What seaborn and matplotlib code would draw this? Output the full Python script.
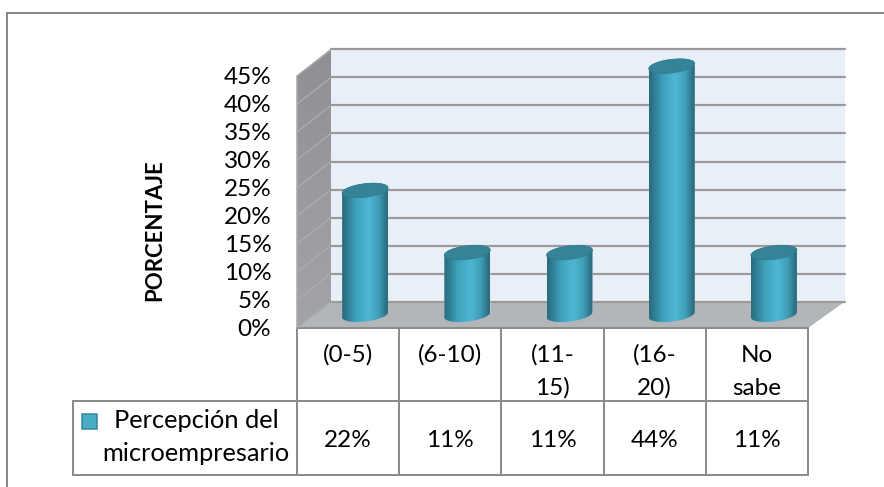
import numpy as np
import pandas as pd
import matplotlib
matplotlib.use("Agg")
import matplotlib.pyplot as plt
from matplotlib.colors import LinearSegmentedColormap
from matplotlib.patches import PathPatch, Polygon, Rectangle
from matplotlib.path import Path
from matplotlib.transforms import blended_transform_factory
import seaborn as sns

# ---- data ----
categories = ["(0-5)", "(6-10)", "(11-15)", "(16-20)", "No sabe"]
category_lines = [["(0-5)"], ["(6-10)"], ["(11-", "15)"], ["(16-", "20)"], ["No", "sabe"]]
values = [22.2, 11.1, 11.1, 44.4, 11.1]
value_labels = ["22%", "11%", "11%", "44%", "11%"]
yticks = [0, 5, 10, 15, 20, 25, 30, 35, 40, 45]
series_name = ["Percepción del", "microempresario"]
ylabel = "PORCENTAJE"

# ---- style / layout ----
W, H = 884, 487
X0, X1, Y0, Y45 = 297.0, 808.0, 328.0, 76.0   # front plane in pixels
DX, DY = 34.0, -26.5                          # depth of the box
BACK_EXTRA = 3.0                              # back wall runs a little wider
GRAY = "#8c8c8c"
INK = "#000000"
FONT = "Lato"
FS = 17.5

sns.set_theme(style="white")
plt.rcParams["font.family"] = [FONT, "DejaVu Sans"]
plt.rcParams["text.color"] = INK

fig = plt.figure(figsize=(W / 100, H / 100), dpi=100, facecolor="white")


def plane(dx=0.0, dy=0.0, z=1, extra=0.0):
    ax = fig.add_axes([(X0 + dx) / W, 1 - (Y0 + dy) / H, (X1 - X0 + extra) / W, (Y0 - Y45) / H], zorder=z)
    ax.patch.set_alpha(0)
    ax.set_ylim(0, 45)
    ax.set_xlim(-0.5, len(categories) - 0.5)
    for s in ax.spines.values():
        s.set_visible(False)
    return ax


# pixel overlay for frame, box faces and table rules
pa = fig.add_axes([0, 0, 1, 1], zorder=0)
pa.set_xlim(0, W)
pa.set_ylim(H, 0)
pa.axis("off")

px = 0.72  # one pixel in points
pa.plot([7, 7, W], [H, 13, 13], color="#888888", lw=2 * px, solid_joinstyle="miter")

# side wall with a soft gradient, floor
wall = Polygon([(X0, Y0), (X0 + DX, Y0 + DY), (X0 + DX, Y45 + DY), (X0, Y45)], closed=True,
               fc="none", ec="none")
pa.add_patch(wall)
sidecmap = LinearSegmentedColormap.from_list("side", ["#8e9094", "#a2a4a8"])
im = pa.imshow(np.linspace(0, 1, 64)[:, None], cmap=sidecmap, aspect="auto",
               extent=(X0, X0 + DX, Y0, Y45 + DY))
im.set_clip_path(wall)
pa.set_xlim(0, W)
pa.set_ylim(H, 0)
pa.add_patch(Polygon([(X0, Y0), (X1, Y0), (X1 + DX + BACK_EXTRA, Y0 + DY), (X0 + DX, Y0 + DY)], closed=True,
                     fc="#b3b6b9", ec="none"))
pa.plot([X0, X0], [Y0, Y45], color="#a8a8a8", lw=1.5 * px)

# back wall
back = plane(DX, DY, z=1, extra=BACK_EXTRA)
back.patch.set_facecolor("#e8eff6")
back.patch.set_alpha(1)
back.set_xticks([])
back.set_yticks(yticks)
back.tick_params(left=False, labelleft=False)
back.grid(True, axis="y", color="#9a9a9a", lw=2.2 * px)
back.set_axisbelow(True)
for line in back.get_ygridlines():
    line.set_clip_on(False)

# front plane: tick labels and x positions for the table
front = plane(0, 0, z=2)
front.set_xticks([])
front.set_yticks(yticks, [f"{t}%" for t in yticks], fontsize=17.5, color=INK)
front.tick_params(axis="y", left=False, length=0, pad=18.5)

# side wall rungs
for t in yticks:
    y = Y0 - (Y0 - Y45) * t / 45
    pa.plot([X0, X0 + DX], [y, y + DY], color="#a9abae", lw=1.5 * px, zorder=3)

# bars in the middle of the depth
bars = plane(DX / 2, DY / 2, z=3)
df = pd.DataFrame({"cat": categories, "val": values})
sns.barplot(data=df, x="cat", y="val", ax=bars, width=0.45, color="#4bacc6",
            saturation=1, native_scale=False, legend=False, errorbar=None)
bars.set_xlim(-0.5, len(categories) - 0.5)
bars.set_ylim(0, 45)
bars.set_xlabel("")
bars.set_ylabel("")
bars.set_xticks([])
bars.set_yticks([])

cyl = LinearSegmentedColormap.from_list(
    "cyl",
    [(0.0, "#2a6a7e"), (0.12, "#317f95"), (0.30, "#3fa2bc"), (0.58, "#4fb7d3"),
     (0.80, "#3f9db6"), (0.93, "#307a8f"), (1.0, "#2b687b")])
gradient = np.linspace(0, 1, 128)[None, :]
RY = 6.8 / ((Y0 - Y45) / 45)     # ellipse half-height in data units
TILT = 2.6 / ((Y0 - Y45) / 45)   # right side raised
t_low = np.linspace(np.pi, 2 * np.pi, 60)
t_up = np.linspace(0, np.pi, 60)
t_full = np.linspace(0, 2 * np.pi, 120)

for rect in list(bars.patches):
    left, w, h = rect.get_x(), rect.get_width(), rect.get_height()
    cx, rx = left + w / 2, w / 2
    xb = cx + rx * np.cos(t_low)
    yb = RY * np.sin(t_low) + TILT * np.cos(t_low)
    xt = cx + rx * np.cos(t_up)
    yt = h + RY * np.sin(t_up) + TILT * np.cos(t_up)
    body = PathPatch(Path(np.column_stack([np.r_[xb, xt], np.r_[yb, yt]]), closed=False),
                     fc="none", ec="none", transform=bars.transData, clip_on=False)
    bars.add_patch(body)
    rect.set_clip_path(body)
    im = bars.imshow(gradient, cmap=cyl, aspect="auto", extent=(left, left + w, yb.min(), yt.max()),
                     zorder=3)
    im.set_clip_box(fig.bbox)
    im.set_clip_path(body)
    cap = Polygon(np.column_stack([cx + rx * np.cos(t_full),
                                   h + RY * np.sin(t_full) + TILT * np.cos(t_full)]),
                  closed=True, fc="#358397", ec="#2f7a8e", lw=0.5, zorder=4, clip_on=False)
    bars.add_patch(cap)
bars.set_xlim(-0.5, len(categories) - 0.5)
bars.set_ylim(0, 45)

# y axis title
fig.text(155 / W, 1 - 230 / H, ylabel, rotation=90, ha="center", va="center",
         fontsize=16, fontweight="bold", color=INK)

# data table
rule = dict(color=GRAY, lw=2 * px, solid_capstyle="projecting", zorder=2)
ROW1, ROW2, LEFT = 401.0, 475.0, 73.0
pa.plot([X0, X1], [Y0, Y0], **rule)
pa.plot([LEFT, X1], [ROW1, ROW1], **rule)
pa.plot([LEFT, X1], [ROW2, ROW2], **rule)
pa.plot([LEFT, LEFT], [ROW1, ROW2], **rule)
for i in range(len(categories) + 1):
    x = X0 + (X1 - X0) * i / len(categories)
    pa.plot([x, x], [Y0, ROW2], **rule)

trans = blended_transform_factory(front.transData, pa.transData)
for i, lines in enumerate(category_lines):
    for line, yb in zip(lines, [362, 395]):
        pa.text(i, yb, line, transform=trans, ha="center", va="baseline", fontsize=FS, color=INK)
    pa.text(i, 447, value_labels[i], transform=trans, ha="center", va="baseline", fontsize=FS, color=INK)

# legend key and name
pa.add_patch(Rectangle((82, 414), 15, 15, fc="#4bacc6", ec="#31859c", lw=1.5 * px))
pa.text(196, 428, series_name[0], ha="center", va="baseline", fontsize=18.3, color=INK)
pa.text(196, 461, series_name[1], ha="center", va="baseline", fontsize=18.3, color=INK)

fig.savefig("out.png", dpi=100, facecolor="white")
